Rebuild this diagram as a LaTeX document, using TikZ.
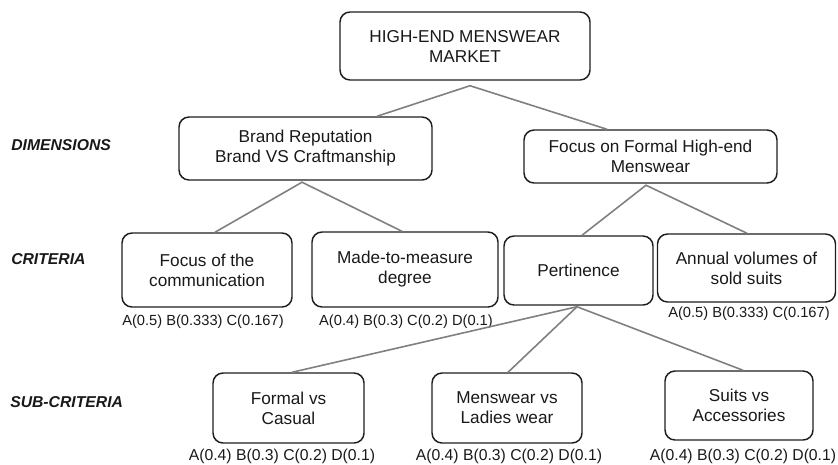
\documentclass[tikz,border=0pt]{standalone}
\usepackage{fontspec}
\setmainfont{Liberation Sans}
\usetikzlibrary{calc}
\definecolor{conn}{RGB}{128,128,128}
\definecolor{edge}{RGB}{30,30,30}
\definecolor{ink}{RGB}{25,25,25}
\tikzset{
  box/.style={draw=edge, line width=1.1pt, rounded corners=7.5pt, align=center,
    inner sep=0pt, text=ink, font=\fontsize{12.9}{15}\selectfont},
  weights/.style={inner sep=0pt, text=ink, font=\fontsize{11}{13}\selectfont},
  subweights/.style={inner sep=0pt, text=ink, font=\fontsize{11.8}{14}\selectfont},
  level/.style={inner sep=0pt, anchor=west, text=ink, font=\fontsize{11.8}{14}\selectfont\bfseries\itshape},
  link/.style={draw=conn, line width=1.2pt}
}
\begin{document}
\begin{tikzpicture}[x=0.75pt,y=-0.75pt]
\useasboundingbox (0,0) rectangle (838,464);

% level labels
\node[level] (ldim) at (11,145) {DIMENSIONS};
\node[level] (lcri) at (11,259) {CRITERIA};
\node[level] (lsub) at (10,402) {SUB-CRITERIA};

% boxes
\node[box, minimum width=187.5pt, minimum height=51pt] (top) at (465,46) {HIGH-END MENSWEAR\\MARKET};
\node[box, minimum width=189.75pt, minimum height=47.25pt] (brand) at (305.5,148.5) {Brand Reputation\\Brand VS Craftmanship};
\node[box, minimum width=189.75pt, minimum height=39.75pt] (focusf) at (650.5,156.5) {Focus on Formal High-end\\Menswear};
\node[box, minimum width=127.5pt, minimum height=55.5pt] (comm) at (207,270) {Focus of the\\communication};
\node[box, minimum width=139.5pt, minimum height=56.25pt] (mtm) at (405,269.5) {Made-to-measure\\degree};
\node[box, minimum width=111.75pt, minimum height=51.75pt] (pert) at (578.5,270.5) {Pertinence};
\node[box, minimum width=133.5pt, minimum height=51pt] (annual) at (746.5,268) {Annual volumes of\\sold suits};
\node[box, minimum width=113.25pt, minimum height=52.5pt] (fvc) at (288.5,408) {Formal vs\\Casual};
\node[box, minimum width=112.5pt, minimum height=52.5pt] (mvl) at (507,408) {Menswear vs\\Ladies wear};
\node[box, minimum width=111pt, minimum height=51.75pt] (svs) at (739,405.5) {Suits vs\\Accessories};

% weights
\node[weights] (wcomm) at (203,322) {A(0.5) B(0.333) C(0.167)};
\node[weights] (wmtm) at (406,322) {A(0.4) B(0.3) C(0.2) D(0.1)};
\node[weights] (wannual) at (749,314) {A(0.5) B(0.333) C(0.167)};
\node[subweights] (wfvc) at (282,456) {A(0.4) B(0.3) C(0.2) D(0.1)};
\node[subweights] (wmvl) at (509,456) {A(0.4) B(0.3) C(0.2) D(0.1)};
\node[subweights] (wsvs) at (743,456) {A(0.4) B(0.3) C(0.2) D(0.1)};

% connector apexes
\coordinate (topapex) at ($(top.south)+(5,5)$);
\coordinate (brandapex) at ($(brand.south)+(-3.5,1.5)$);
\coordinate (focusapex) at ($(focusf.south)+(-4.5,1.5)$);
\coordinate (pertapex) at ($(pert.south)+(-1.5,1)$);

\draw[link] ($(brand.north)+(71.5,0)$) -- (topapex) -- ($(focusf.north)+(-43.5,0)$);
\draw[link] ($(comm.north)+(8,0)$) -- (brandapex) -- ($(mtm.north)+(-3,0)$);
\draw[link] ($(pert.north)+(3.5,0)$) -- (focusapex) -- ($(annual.north)+(0.5,0)$);
\draw[link] ($(fvc.north)+(3.5,0)$) -- (pertapex) -- ($(svs.north)+(4,0)$);
\draw[link] (pertapex) -- ($(mvl.north)+(1,0)$);
\end{tikzpicture}
\end{document}
